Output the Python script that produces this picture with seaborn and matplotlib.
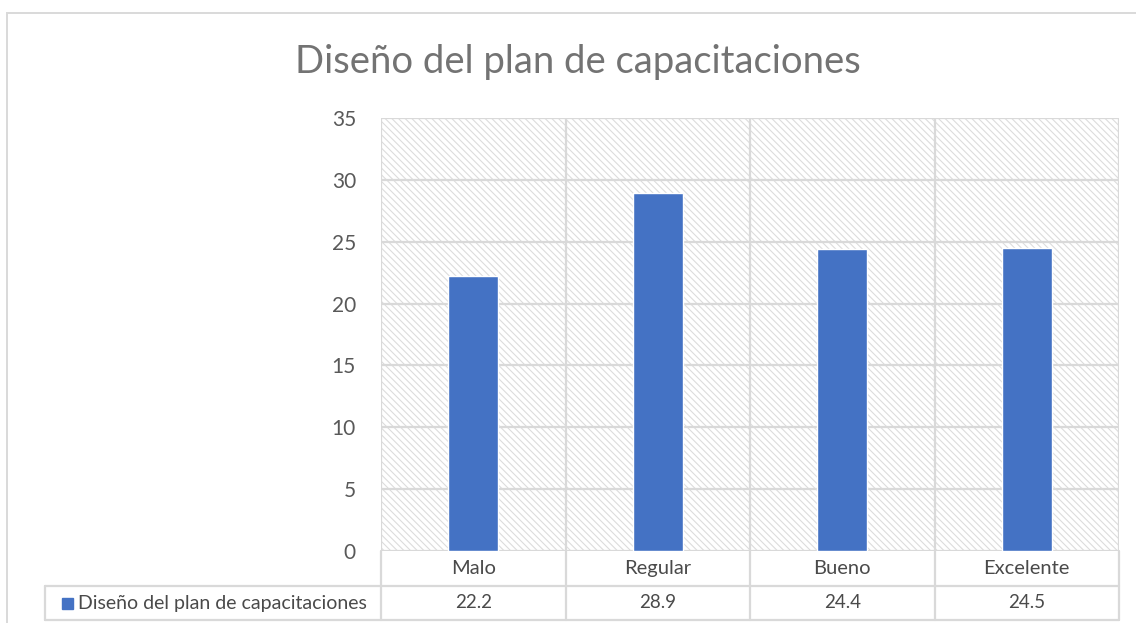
import matplotlib
matplotlib.use("Agg")
import matplotlib.pyplot as plt
import matplotlib.transforms as mtransforms
from matplotlib.patches import Rectangle
import seaborn as sns
import pandas as pd

# Chart data
categories = ["Malo", "Regular", "Bueno", "Excelente"]
values = [22.2, 28.9, 24.4, 24.5]
series_name = "Diseño del plan de capacitaciones"
title = "Diseño del plan de capacitaciones"
y_ticks = [0, 5, 10, 15, 20, 25, 30, 35]

BAR_COLOR = "#4472C4"
GRID_COLOR = "#d9d9d9"
TEXT_COLOR = "#595959"
TITLE_COLOR = "#737373"
TABLE_TEXT = "#4a4a4a"

sns.set_theme(style="white")
plt.rcParams["font.family"] = ["Lato", "DejaVu Sans"]
plt.rcParams["hatch.color"] = "#dcdcdc"
plt.rcParams["hatch.linewidth"] = 0.8

W, H = 1136, 623
fig = plt.figure(figsize=(W / 100, H / 100), dpi=100)

# Plot area in pixel units converted to figure fractions
left_px, right_px, top_px, bottom_px = 381, 1119, 118, 551
ax = fig.add_axes([left_px / W, 1 - bottom_px / H,
                   (right_px - left_px) / W, (bottom_px - top_px) / H])

df = pd.DataFrame({"categoria": categories, "valor": values})
sns.barplot(data=df, x="categoria", y="valor", order=categories,
            color=BAR_COLOR, saturation=1, width=0.27, ax=ax, zorder=3)

ax.set_xlim(-0.5, len(categories) - 0.5)
ax.set_ylim(0, 35)
ax.set_yticks(y_ticks)
ax.set_yticklabels([str(t) for t in y_ticks], fontsize=15, color=TEXT_COLOR)
ax.tick_params(axis="y", length=0, pad=18)
ax.set_xticks([])
ax.set_xlabel("")
ax.set_ylabel("")

# Hatched background of the plot area
ax.patch.set_facecolor("white")
ax.patch.set_hatch("\\\\\\\\\\")
ax.patch.set_edgecolor("#dcdcdc")
ax.patch.set_linewidth(0)

# Grid: horizontal at each tick, vertical at category boundaries
for t in y_ticks:
    ax.axhline(t, color=GRID_COLOR, lw=1.6, zorder=1)
for b in range(len(categories) + 1):
    ax.axvline(b - 0.5, color=GRID_COLOR, lw=1.6, zorder=1)
for s in ax.spines.values():
    s.set_visible(False)

# Data table under the plot
trans = mtransforms.blended_transform_factory(ax.transData, ax.transAxes)
plot_h = bottom_px - top_px
row1 = -(586 - bottom_px) / plot_h
row2 = -(620 - bottom_px) / plot_h
legend_left = (45 - left_px) / (right_px - left_px)

line_kw = dict(color=GRID_COLOR, lw=1.6, clip_on=False)
ax.plot([legend_left, 1], [row1, row1], transform=ax.transAxes, **line_kw)
ax.plot([legend_left, 1], [row2, row2], transform=ax.transAxes, **line_kw)
ax.plot([legend_left, legend_left], [row1, row2], transform=ax.transAxes, **line_kw)
for b in range(len(categories) + 1):
    ax.plot([b - 0.5, b - 0.5], [0, row2], transform=trans, **line_kw)

for i, (c, v) in enumerate(zip(categories, values)):
    ax.text(i, row1 / 2, c, transform=trans, ha="center", va="center",
            fontsize=14.5, color=TABLE_TEXT)
    ax.text(i, (row1 + row2) / 2, f"{v:.1f}", transform=trans, ha="center",
            va="center", fontsize=13.5, color=TABLE_TEXT)

# Legend key inside the table
key_x = (62 - left_px) / (right_px - left_px)
key_w = 11 / (right_px - left_px)
key_h = 11 / plot_h
mid = (row1 + row2) / 2
ax.add_patch(Rectangle((key_x, mid - key_h / 2), key_w, key_h,
                       transform=ax.transAxes, color=BAR_COLOR, clip_on=False))
ax.text(key_x + key_w + 5 / (right_px - left_px), mid, series_name,
        transform=ax.transAxes, ha="left", va="center", fontsize=14,
        color=TABLE_TEXT)

# Chart title
fig.text(578 / W, 1 - 62 / H, title, ha="center", va="center",
         fontsize=27.5, color=TITLE_COLOR)

# Outer chart frame
fig.add_artist(Rectangle((7 / W, -0.1), 1.2, 1 - 13 / H + 0.1,
                         transform=fig.transFigure, fill=False,
                         edgecolor=GRID_COLOR, lw=1.4))

fig.savefig("out.png", dpi=100)
